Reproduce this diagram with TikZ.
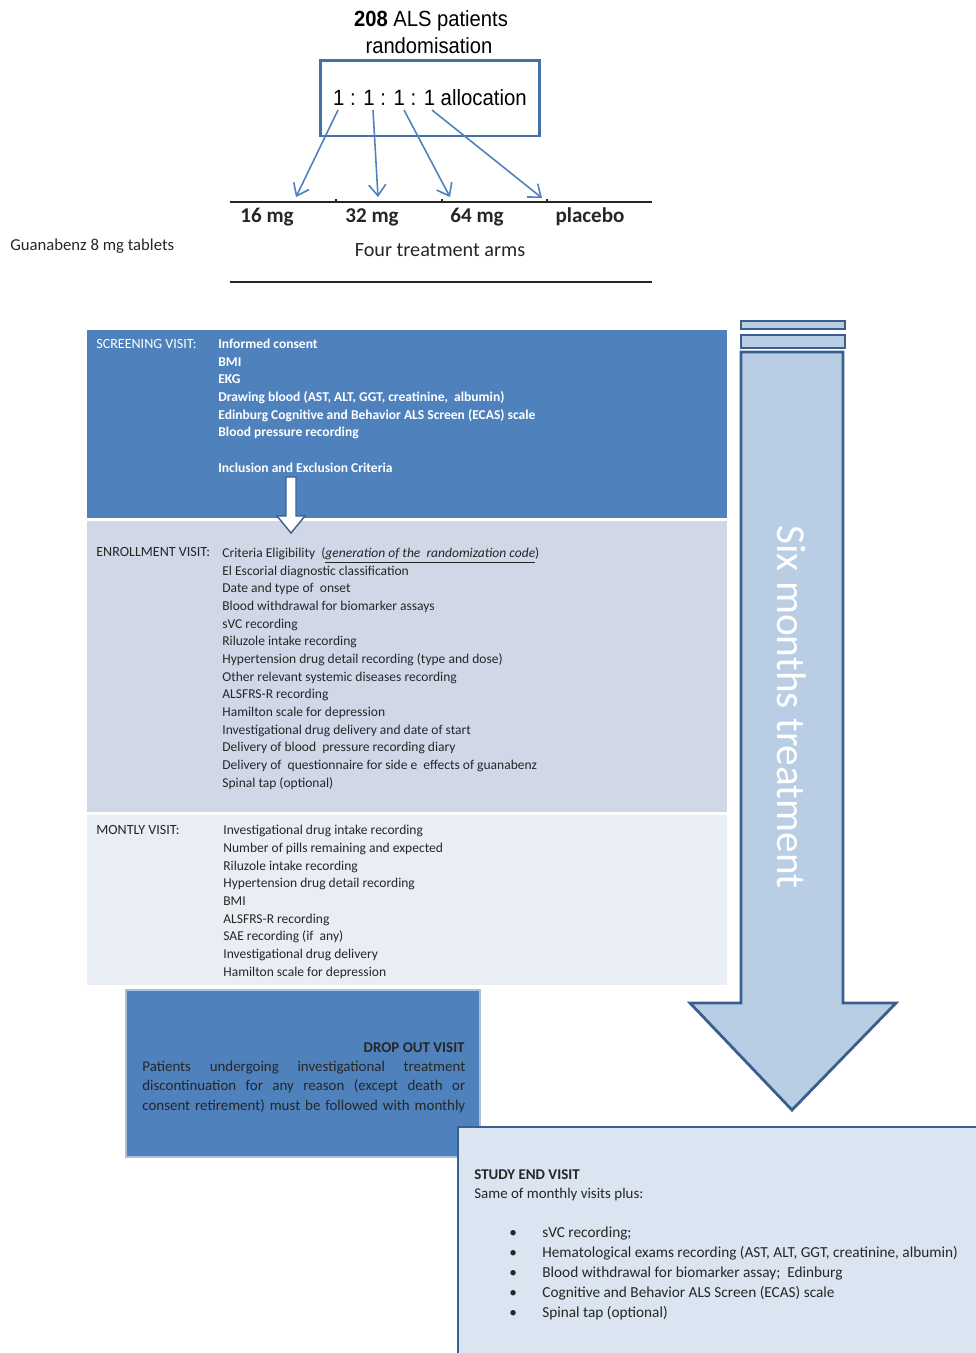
\documentclass[tikz,border=0pt]{standalone}
\usepackage{fontspec}
\setmainfont{Carlito}
\newfontfamily\arialfont[FakeStretch=0.92]{Liberation Sans}
\usepackage{xcolor}
\usetikzlibrary{arrows.meta}
\definecolor{visitblue}{HTML}{4F81BD}
\definecolor{enrolfill}{HTML}{D0D8E8}
\definecolor{monthfill}{HTML}{E9EDF4}
\definecolor{endfill}{HTML}{DBE5F1}
\definecolor{arrowfill}{HTML}{B9CDE5}
\definecolor{darkline}{HTML}{3A5F8E}
\definecolor{allocblue}{HTML}{4670A8}
\definecolor{armblue}{HTML}{4F81BD}
\definecolor{textgray}{HTML}{262626}
\definecolor{dropedge}{HTML}{A9C0DE}
\tikzset{>=latex}
\tikzset{
  titletxt/.style={font=\arialfont\fontsize{12.5}{14}\selectfont, text=black},
  allocbox/.style={draw=allocblue, line width=1.7pt, minimum width=4.4cm, minimum height=1.52cm,
    font=\arialfont\fontsize{12.6}{15}\selectfont, text=black},
  allocarrow/.style={draw=armblue, line width=0.9pt, -{Straight Barb[length=2.2mm, width=3.4mm]}},
  armline/.style={draw=textgray, line width=0.9pt},
  armtxt/.style={font=\bfseries\fontsize{12}{14}\selectfont, text=textgray},
  headtxt/.style={anchor=base west, inner sep=0pt, font=\fontsize{8}{10}\selectfont},
  % multi-line lists are placed by the baseline of their last line
  listtxt/.style={anchor=base west, inner sep=0pt, align=left, font=\fontsize{7.7}{10.04}\selectfont},
}

\begin{document}
\begin{tikzpicture}[x=0.02cm, y=-0.02cm]
\useasboundingbox (0,0) rectangle (976,1353);

% randomisation
\node[titletxt] (title) at (431,21) {\textbf{208} ALS patients};
\node[titletxt] (rand) at (429,46) {randomisation};
\node[allocbox] (alloc) at (430,98) {1 : 1 : 1 : 1 allocation};

\coordinate (from1) at (338,110);
\coordinate (from2) at (373,110);
\coordinate (from3) at (404,110);
\coordinate (from4) at (432,110);
\coordinate (to1) at (296,197);
\coordinate (to2) at (378,197);
\coordinate (to3) at (450,197);
\coordinate (to4) at (542,198);
\draw[allocarrow] (from1) -- (to1);
\draw[allocarrow] (from2) -- (to2);
\draw[allocarrow] (from3) -- (to3);
\draw[allocarrow] (from4) -- (to4);

% treatment arms
\draw[armline] (230,202) -- (652,202);
\draw[armline] (336,199) -- (336,202);
\draw[armline] (442,199) -- (442,202);
\draw[armline] (547,199) -- (547,202);
\node[armtxt] (arm16) at (267,217) {16 mg};
\node[armtxt] (arm32) at (372,217) {32 mg};
\node[armtxt] (arm64) at (477,217) {64 mg};
\node[armtxt] (armpl) at (590,217) {placebo};
\node[font=\fontsize{11.5}{13}\selectfont, text=textgray] (arms) at (440,250) {Four treatment arms};
\node[anchor=west, inner sep=0pt, font=\fontsize{9.5}{11}\selectfont, text=textgray] (tablets) at (10,246) {Guanabenz 8 mg tablets};
\draw[armline] (230,282) -- (652,282);

% visit panels
\fill[visitblue] (87,330) rectangle (727,518);
\fill[enrolfill] (87,521) rectangle (727,812);
\fill[monthfill] (87,815) rectangle (727,985);

\node[headtxt, text=white] (screenhead) at (96,348) {SCREENING VISIT:};
\node[listtxt, text=white, font=\bfseries\fontsize{7.7}{10.04}\selectfont] (screenlist) at (218,472) {Informed consent\\ BMI\\ EKG\\
  Drawing blood (AST, ALT, GGT, creatinine,\ \ albumin)\\
  Edinburg Cognitive and Behavior ALS Screen (ECAS) scale\\
  Blood pressure recording\\ \\ Inclusion and Exclusion Criteria};
\draw[darkline, fill=white, line width=0.8pt] (286,477) -- (286,516) -- (277,516) -- (291,533)
  -- (305,516) -- (296,516) -- (296,477) -- cycle;

\node[headtxt, text=textgray] (enrolhead) at (96,556) {ENROLLMENT VISIT:};
\node[listtxt, text=textgray] (enrollist) at (222,787) {Criteria Eligibility\ \ (\underline{\textit{generation of the\ \ randomization code}})\\
  El Escorial diagnostic classification\\ Date and type of\ \ onset\\
  Blood withdrawal for biomarker assays\\ sVC recording\\ Riluzole intake recording\\
  Hypertension drug detail recording (type and dose)\\
  Other relevant systemic diseases recording\\ ALSFRS-R recording\\
  Hamilton scale for depression\\ Investigational drug delivery and date of start\\
  Delivery of blood\ \ pressure recording diary\\
  Delivery of\ \ questionnaire for side e\ \ effects of guanabenz\\ Spinal tap (optional)};

\node[headtxt, text=textgray] (monthhead) at (96,834) {MONTLY VISIT:};
\node[listtxt, text=textgray] (monthlist) at (223,976) {Investigational drug intake recording\\
  Number of pills remaining and expected\\ Riluzole intake recording\\
  Hypertension drug detail recording\\ BMI\\ ALSFRS-R recording\\
  SAE recording (if\ \ any)\\ Investigational drug delivery\\ Hamilton scale for depression};

% six months arrow
\draw[darkline, fill=arrowfill, line width=0.8pt] (741,321) rectangle (845,329);
\draw[darkline, fill=arrowfill, line width=0.8pt] (741,335) rectangle (845,348);
\draw[darkline, fill=arrowfill, line width=1.6pt] (741,352) -- (741,1003) -- (690,1003) -- (792,1110)
  -- (896,1003) -- (843,1003) -- (843,352) -- cycle;
\node[rotate=-90, text=white, font=\fontsize{23.5}{24}\selectfont] (sixmonths) at (792,707) {Six months treatment};

% drop out
\draw[fill=visitblue, draw=dropedge, line width=1pt] (126,990) rectangle (480,1157);
\node[anchor=base east, inner sep=0pt, font=\bfseries\fontsize{8.5}{10}\selectfont, text=textgray] (drophead) at (465,1052) {DROP OUT VISIT};
\node[listtxt, font=\fontsize{8.5}{11}\selectfont, text=textgray] (droptxt) at (142,1110) {%
  \makebox[6.46cm][s]{Patients undergoing investigational treatment}\\
  \makebox[6.46cm][s]{discontinuation for any reason (except death or}\\
  \makebox[6.46cm][s]{consent retirement) must be followed with monthly}};

% study end
\fill[endfill] (458,1127) rectangle (976,1353);
\draw[darkline, line width=1.6pt] (458,1353) -- (458,1127) -- (976,1127);
\node[headtxt, font=\bfseries\fontsize{8.5}{10}\selectfont, text=textgray] (endhead) at (474,1179) {STUDY END VISIT};
\node[headtxt, font=\fontsize{8.5}{10}\selectfont, text=textgray] (endsub) at (474,1198) {Same of monthly visits plus:};
\node[listtxt, font=\fontsize{8.7}{11.34}\selectfont, text=textgray] (endbullets) at (509,1317) {\textbullet\\ \textbullet\\ \textbullet\\ \textbullet\\ \textbullet};
\node[listtxt, font=\fontsize{8.7}{11.34}\selectfont, text=textgray] (endlist) at (542,1317) {sVC recording;\\
  Hematological exams recording (AST, ALT, GGT, creatinine, albumin)\\
  Blood withdrawal for biomarker assay;\ \ Edinburg\\
  Cognitive and Behavior ALS Screen (ECAS) scale\\ Spinal tap (optional)};
\end{tikzpicture}
\end{document}
